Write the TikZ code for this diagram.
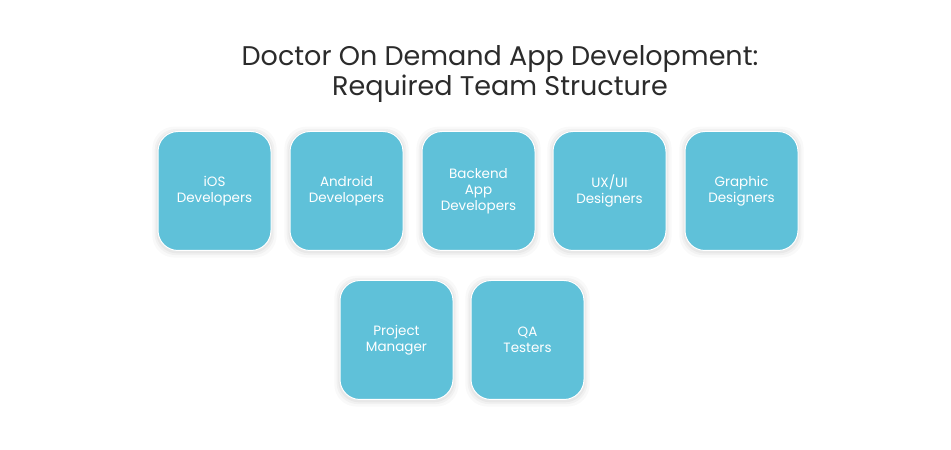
\documentclass[tikz,border=0pt]{standalone}
\usepackage{fontspec}
\setmainfont{Poppins}
\usetikzlibrary{positioning, shadows}
\definecolor{teamblue}{HTML}{5FC1D9}
\definecolor{titlegray}{HTML}{2B2B2B}

\tikzset{
  teambox/.style={fill=teamblue, draw=white, line width=1pt, rounded corners=20pt,
    minimum width=113pt, minimum height=119pt, text=white, align=center,
    font=\fontsize{13.5}{16}\selectfont,
    general shadow={fill=black, opacity=0.025, shadow scale=1.10, shadow yshift=-1pt},
    general shadow={fill=black, opacity=0.03, shadow scale=1.06, shadow yshift=-1pt},
    general shadow={fill=black, opacity=0.035, shadow scale=1.03, shadow yshift=-1pt}},
}

\begin{document}
\begin{tikzpicture}[x=1pt, y=1pt]
    \useasboundingbox[fill=white] (0,0) rectangle (951,450);
    \node[text=titlegray, align=center, font=\fontsize{27}{30}\selectfont] (title) at (500,376)
      {Doctor On Demand App Development:\\Required Team Structure};
    % first row
    \node[teambox] (ios) at (214.5,259) {iOS\\Developers};
    \node[teambox, right=18pt of ios] (android) {Android\\Developers};
    \node[teambox, right=18pt of android] (backend) {Backend\\App\\Developers};
    \node[teambox, right=17pt of backend] (uxui) {UX/UI\\Designers};
    \node[teambox, right=18pt of uxui] (graphic) {Graphic\\Designers};
    % second row
    \node[teambox] (pm) at (396.5,110) {Project\\Manager};
    \node[teambox, right=17pt of pm] (qa) {QA\\Testers};
  \end{tikzpicture}
\end{document}
